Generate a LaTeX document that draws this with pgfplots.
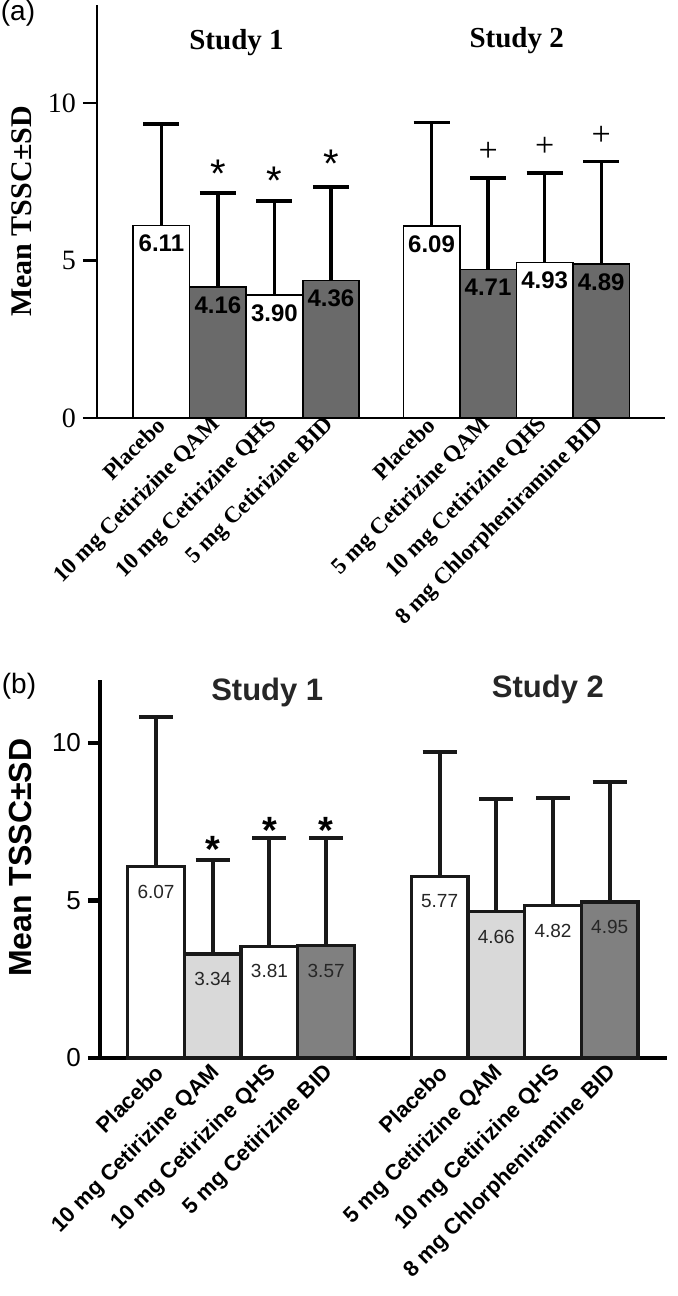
\documentclass[border=0pt]{standalone}
\usepackage{fontspec}
\setmainfont{Liberation Serif}
\newfontfamily\arialf{Liberation Sans}
\usepackage{pgfplots}
\usepackage{pgfplotstable}
\pgfplotsset{compat=1.18}

\definecolor{darkA}{HTML}{6A6A6A}
\definecolor{lightB}{HTML}{D9D9D9}
\definecolor{darkB}{HTML}{808080}

% ---------- panel (a) ----------
\pgfplotstableread{
x y e l
0 6.11 3.22 6.11
2 3.90 2.99 3.90
4.78 6.09 3.28 6.09
6.78 4.93 2.85 4.93
}\aWhite
\pgfplotstableread{
x y e l
1 4.16 2.98 4.16
3 4.36 2.97 4.36
5.78 4.71 2.91 4.71
7.78 4.89 3.24 4.89
}\aDark
\pgfplotstableread{
x y l
1 8.01 *
2 7.80 *
3 8.33 *
}\aStar
\pgfplotstableread{
x y l
5.78 8.45 +
6.78 8.60 +
7.78 8.97 +
}\aPlus
% ---------- panel (b) ----------
\pgfplotstableread{
x y e l
0 6.07 4.75 6.07
2 3.55 3.42 3.81
5 5.77 3.93 5.77
7 4.84 3.41 4.82
}\bWhite
\pgfplotstableread{
x y e l
1 3.30 2.99 3.34
6 4.64 3.58 4.66
}\bLight
\pgfplotstableread{
x y e l
3 3.57 3.40 3.57
8 4.95 3.82 4.95
}\bDark
\pgfplotstableread{
x y l
1 6.86 *
2 7.49 *
3 7.49 *
}\bStar

\begin{document}
\begin{tikzpicture}
\useasboundingbox (0,0) rectangle (338.5pt,648pt);

\node[font=\arialf\fontsize{14}{14}\selectfont] at (9pt,641.5pt) {(a)};
\node[font=\arialf\fontsize{14}{14}\selectfont] at (9.5pt,305pt) {(b)};

% ===== Panel (a) =====
\begin{axis}[
  at={(48.5pt,439pt)}, anchor=south west,
  scale only axis, width=284pt, height=206.5pt,
  clip=false,
  xmin=-1.14, xmax=8.91, ymin=0, ymax=13.11,
  axis x line=bottom, axis y line=left,
  axis line style={-, line width=1.1pt},
  tick align=outside,
  major tick length=7pt,
  ytick={0,5,10},
  major y tick style={line width=1.1pt, black},
  major x tick style={draw=none},
  xtick={0,1,2,3,4.78,5.78,6.78,7.78},
  xticklabels={Placebo,10 mg Cetirizine QAM,10 mg Cetirizine QHS,5 mg Cetirizine BID,Placebo,5 mg Cetirizine QAM,10 mg Cetirizine QHS,8 mg Chlorpheniramine BID},
  xticklabel style={rotate=45, anchor=east, font=\bfseries\fontsize{11.5}{11.5}\selectfont, xshift=7pt, yshift=4pt},
  yticklabel style={font=\fontsize{14}{14}\selectfont},
  /pgf/number format/assume math mode=true,
  ylabel={Mean TSSC±SD},
  ylabel style={at={(axis description cs:-0.132,0.5)}, anchor=center, font=\bfseries\fontsize{15}{15}\selectfont},
]
\addplot[ybar, bar shift=0pt, bar width=1, fill=white, draw=black, line width=0.8pt,
  error bars/y dir=plus, error bars/y explicit,
  error bars/error bar style={line width=1.6pt, black},
  error bars/error mark options={rotate=90, mark size=9pt, line width=1.6pt, black},
  nodes near coords, point meta=explicit symbolic,
  every node near coord/.append style={anchor=center, yshift=-9pt, font=\arialf\bfseries\fontsize{12}{12}\selectfont, text=black}]
  table[x=x, y=y, y error plus=e, meta=l] {\aWhite};
\addplot[ybar, bar shift=0pt, bar width=1, fill=darkA, draw=black, line width=0.8pt,
  error bars/y dir=plus, error bars/y explicit,
  error bars/error bar style={line width=1.6pt, black},
  error bars/error mark options={rotate=90, mark size=9pt, line width=1.6pt, black},
  nodes near coords, point meta=explicit symbolic,
  every node near coord/.append style={anchor=center, yshift=-9pt, font=\arialf\bfseries\fontsize{12}{12}\selectfont, text=black}]
  table[x=x, y=y, y error plus=e, meta=l] {\aDark};
\addplot[only marks, mark=none, nodes near coords, point meta=explicit symbolic,
  every node near coord/.append style={anchor=center, yshift=-4pt, inner sep=0pt, font=\arialf\fontsize{20}{20}\selectfont}]
  table[x=x, y=y, meta=l] {\aStar};
\addplot[only marks, mark=none, nodes near coords, point meta=explicit symbolic,
  every node near coord/.append style={anchor=center, inner sep=0pt, font=\fontsize{17}{17}\selectfont}]
  table[x=x, y=y, meta=l] {\aPlus};
\node[font=\bfseries\fontsize{14.5}{14.5}\selectfont] at (rel axis cs:0.2456,0.910) {Study 1};
\node[font=\bfseries\fontsize{14.5}{14.5}\selectfont] at (rel axis cs:0.739,0.915) {Study 2};
\end{axis}

% ===== Panel (b) =====
\begin{axis}[
  at={(50pt,119pt)}, anchor=south west,
  scale only axis, width=283.5pt, height=189pt,
  clip=false,
  xmin=-0.988, xmax=9.01, ymin=0, ymax=12.0,
  axis x line=bottom, axis y line=left,
  axis line style={-, line width=2.2pt},
  tick align=outside,
  major tick length=6pt,
  ytick={0,5,10},
  major y tick style={line width=2.2pt, black},
  major x tick style={draw=none},
  xtick={0,1,2,3,5,6,7,8},
  xticklabels={Placebo,10 mg Cetirizine QAM,10 mg Cetirizine QHS,5 mg Cetirizine BID,Placebo,5 mg Cetirizine QAM,10 mg Cetirizine QHS,8 mg Chlorpheniramine BID},
  xticklabel style={rotate=45, anchor=east, font=\arialf\bfseries\fontsize{11}{11}\selectfont, xshift=5pt, yshift=-1pt},
  yticklabel style={font=\arialf\fontsize{13}{13}\selectfont},
  /pgf/number format/assume math mode=true,
  ylabel={Mean TSSC±SD},
  ylabel style={at={(axis description cs:-0.141,0.53)}, anchor=center, font=\arialf\bfseries\fontsize{16}{16}\selectfont},
]
\addplot[ybar, bar shift=0pt, bar width=1, fill=white, draw=black!90, line width=1.6pt,
  error bars/y dir=plus, error bars/y explicit,
  error bars/error bar style={line width=2pt, black!90},
  error bars/error mark options={rotate=90, mark size=8.5pt, line width=2pt, black!90},
  nodes near coords, point meta=explicit symbolic,
  every node near coord/.append style={anchor=center, yshift=-12.5pt, font=\arialf\fontsize{9.5}{9.5}\selectfont, text=black!85}]
  table[x=x, y=y, y error plus=e, meta=l] {\bWhite};
\addplot[ybar, bar shift=0pt, bar width=1, fill=lightB, draw=black!90, line width=1.6pt,
  error bars/y dir=plus, error bars/y explicit,
  error bars/error bar style={line width=2pt, black!90},
  error bars/error mark options={rotate=90, mark size=8.5pt, line width=2pt, black!90},
  nodes near coords, point meta=explicit symbolic,
  every node near coord/.append style={anchor=center, yshift=-12.5pt, font=\arialf\fontsize{9.5}{9.5}\selectfont, text=black!85}]
  table[x=x, y=y, y error plus=e, meta=l] {\bLight};
\addplot[ybar, bar shift=0pt, bar width=1, fill=darkB, draw=black!90, line width=1.6pt,
  error bars/y dir=plus, error bars/y explicit,
  error bars/error bar style={line width=2pt, black!90},
  error bars/error mark options={rotate=90, mark size=8.5pt, line width=2pt, black!90},
  nodes near coords, point meta=explicit symbolic,
  every node near coord/.append style={anchor=center, yshift=-12.5pt, font=\arialf\fontsize{9.5}{9.5}\selectfont, text=black!85}]
  table[x=x, y=y, y error plus=e, meta=l] {\bDark};
\addplot[only marks, mark=none, nodes near coords, point meta=explicit symbolic,
  every node near coord/.append style={anchor=center, yshift=-4pt, inner sep=0pt, font=\arialf\bfseries\fontsize{19}{19}\selectfont}]
  table[x=x, y=y, meta=l] {\bStar};
\node[font=\arialf\bfseries\fontsize{15.5}{15.5}\selectfont, text=black!85] at (rel axis cs:0.295,0.966) {Study 1};
\node[font=\arialf\bfseries\fontsize{15.5}{15.5}\selectfont, text=black!85] at (rel axis cs:0.790,0.974) {Study 2};
\end{axis}
\end{tikzpicture}
\end{document}
